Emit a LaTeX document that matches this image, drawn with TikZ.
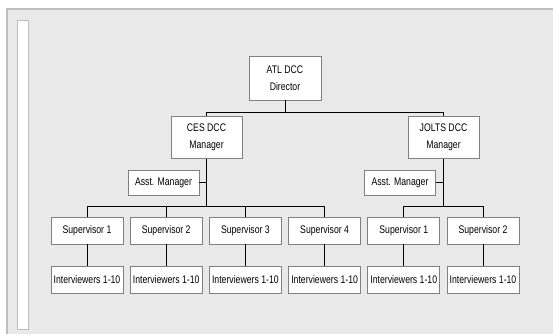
\documentclass[tikz,border=0pt]{standalone}
\usepackage{fontspec}
\setmainfont{Liberation Sans}[FakeStretch=0.79]
\usepackage{tikz}
\usetikzlibrary{calc,positioning}

\definecolor{panelgray}{HTML}{E9E9E9}
\definecolor{framegray}{HTML}{BEBEBE}
\definecolor{boxgray}{HTML}{808080}

\tikzset{
  unit/.style={draw=boxgray,fill=white,line width=0.8pt,inner sep=0pt,minimum width=72,
    align=center,font=\fontsize{11}{17}\selectfont},
  tall/.style={unit,minimum height=42},
  flat/.style={unit,minimum height=26},
  link/.style={line width=0.9pt,black}
}

\begin{document}
\begin{tikzpicture}[x=1pt,y=-1pt]
\useasboundingbox (0,0) rectangle (553,333);
% background panel and side strip
\fill[white] (0,0) rectangle (553,333);
\draw[fill=panelgray,draw=framegray,line width=1.2pt] (7,9) rectangle (560,340);
\draw[fill=white,draw=framegray,line width=0.8pt] (17.5,20) rectangle (28,329);

\node[tall,minimum height=44] (dir) at (285,78) {ATL DCC\\Director};
\node[tall,minimum width=71] (ces) at (206.5,137.5) {CES DCC\\Manager};
\node[tall,minimum width=71] (jolts) at (443.5,137.5) {JOLTS DCC\\Manager};
\node[flat,minimum width=71,minimum height=25] (cesasst) at (163.5,182.5) {Asst. Manager};
\node[flat,minimum width=71,minimum height=25] (joltsasst) at (400,182.5) {Asst. Manager};

% supervisors and their interviewers
\foreach \i/\lab in {1/Supervisor 1,2/Supervisor 2,3/Supervisor 3,4/Supervisor 4,5/Supervisor 1,6/Supervisor 2}{
  \node[flat,minimum height=27] (sup\i) at ({87+79.2*(\i-1)},230.5) {\lab};
  \node[flat,minimum height=27] (int\i) at ({87+79.2*(\i-1)},280) {Interviewers 1-10};
  \draw[link] (sup\i.south) -- (int\i.north);
}

\draw[link] (dir.south) -- ++(0,12) -| (ces.north);
\draw[link] (dir.south) ++(0,12) -| (jolts.north);

\draw[link] (ces.south) -- ++(0,48) coordinate (cesbar);
\draw[link] (cesasst.east) -- (cesasst.east-|ces.south);
\foreach \i in {1,...,4}
  \draw[link] (cesbar) -| (sup\i.north);

\draw[link] (jolts.south) -- ++(0,48) coordinate (joltsbar);
\draw[link] (joltsasst.east) -- (joltsasst.east-|jolts.south);
\foreach \i in {5,6}
  \draw[link] (joltsbar) -| (sup\i.north);
\end{tikzpicture}
\end{document}
